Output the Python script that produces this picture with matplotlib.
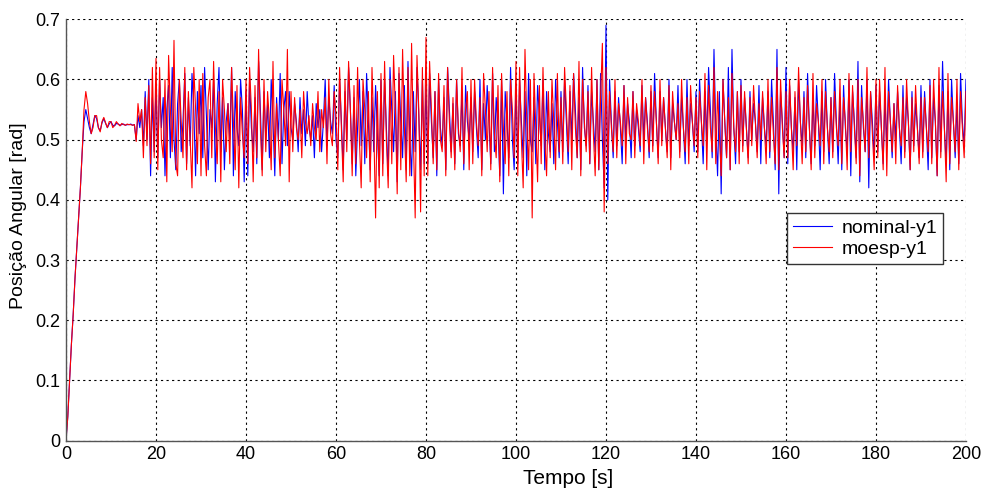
import numpy as np
import matplotlib
matplotlib.use("Agg")
import matplotlib.pyplot as plt

plt.rcParams['font.family'] = ['Liberation Sans', 'DejaVu Sans']

# sample step of the read-off values (s)
dt = 0.4
t_end = 200

# ---- start-up (t = 0 .. 15.2 s) ----
nominal_start = [0, .04, .10, .16, .21, .27, .32, .37, .42, .48, .53, .55, .535, .52, .51, .525,
                 .54, .535, .52, .515, .528, .535, .527, .52, .526, .53, .524, .523, .527, .526,
                 .524, .525, .526, .524, .525, .525, .526, .524, .525]
moesp_start = [0, .04, .10, .16, .21, .27, .32, .37, .42, .48, .55, .58, .56, .53, .51, .52,
               .54, .54, .52, .513, .53, .537, .528, .52, .53, .53, .52, .524, .53, .526,
               .523, .527, .525, .524, .526, .525, .525, .524, .525]

# ---- excitation phase (t = 15.6 .. 200 s) ----
nominal_15 = [.50, .54, .52, .55, .49, .58, .50, .60, .44, .57, .48, .59]
moesp_15 = [.497, .56, .53, .55, .47, .57, .49, .59, .46, .62, .47, .635]

nominal_20 = [.47, .60, .52, .57, .44, .55, .59, .47, .62, .50, .45, .56, .60, .48, .53, .61, .46, .57, .49, .61, .55, .44, .58, .51, .59]
moesp_20 = [.45, .62, .50, .47, .60, .43, .64, .55, .48, .665, .46, .44, .60, .53, .47, .62, .45, .58, .50, .42, .62, .55, .46, .60, .44]
nominal_30 = [.47, .62, .54, .45, .55, .52, .60, .43, .56, .62, .48, .57, .45, .53, .56, .50, .62, .44, .58, .52, .49, .60, .55, .43, .58]
moesp_30 = [.61, .49, .44, .57, .60, .47, .63, .52, .46, .58, .43, .60, .55, .48, .56, .46, .62, .53, .45, .59, .42, .57, .51, .47, .60]
nominal_40 = [.44, .60, .52, .48, .57, .46, .63, .55, .45, .58, .50, .56, .47, .60, .53, .44, .57, .50, .61, .46, .55, .58, .49, .58, .52]
moesp_40 = [.46, .62, .55, .43, .59, .47, .65, .52, .44, .60, .48, .58, .53, .45, .63, .47, .56, .50, .44, .60, .55, .49, .65, .43, .58]
nominal_50 = [.50, .56, .53, .48, .57, .51, .55, .49, .58, .52, .50, .54, .47, .56, .52, .55, .48, .53, .60, .49, .57, .53, .51, .59, .50]
moesp_50 = [.48, .57, .52, .50, .55, .47, .58, .53, .51, .54, .49, .56, .52, .50, .58, .48, .55, .52, .57, .46, .60, .51, .49, .58, .54]
nominal_60 = [.47, .60, .53, .45, .58, .50, .62, .55, .46, .57, .44, .52, .60, .49, .58, .46, .61, .53, .45, .57, .48, .59, .51, .44, .60]
moesp_60 = [.45, .62, .52, .43, .60, .48, .63, .55, .44, .59, .46, .62, .50, .42, .60, .55, .47, .58, .43, .62, .52, .37, .58, .42, .61]
nominal_70 = [.46, .60, .52, .44, .62, .55, .48, .58, .43, .61, .53, .47, .59, .45, .63, .50, .44, .58, .48, .62, .54, .45, .60, .46, .59]
moesp_70 = [.44, .63, .50, .42, .60, .46, .64, .55, .41, .62, .45, .65, .52, .43, .62, .44, .66, .50, .37, .64, .55, .38, .62, .44, .67]
nominal_80 = [.46, .61, .53, .47, .58, .44, .60, .52, .49, .57, .45, .62, .55, .48, .56, .46, .60, .51, .49, .58, .45, .59, .53, .50, .57]
moesp_80 = [.44, .63, .55, .46, .58, .45, .61, .50, .48, .59, .44, .62, .53, .47, .57, .45, .60, .52, .48, .62, .46, .55, .58, .45, .60]
nominal_90 = [.48, .58, .52, .47, .60, .45, .56, .50, .59, .53, .46, .61, .48, .57, .52, .44, .60, .41, .58, .53, .47, .62, .50, .45, .59]
moesp_90 = [.46, .60, .53, .49, .57, .44, .61, .55, .48, .58, .45, .62, .51, .47, .59, .43, .61, .52, .46, .58, .44, .60, .55, .47, .63]
nominal_100 = [.46, .60, .53, .47, .58, .44, .61, .50, .48, .57, .46, .59, .54, .49, .60, .45, .58, .51, .48, .56, .46, .60, .53, .47, .58]
moesp_100 = [.44, .62, .50, .42, .65, .53, .45, .60, .37, .61, .52, .43, .59, .46, .62, .50, .44, .58, .47, .60, .53, .45, .61, .48, .57]
nominal_110 = [.48, .60, .53, .46, .58, .50, .61, .55, .47, .57, .45, .62, .52, .49, .59, .46, .58, .53, .48, .60, .45, .61, .50, .42, .69]
moesp_110 = [.46, .62, .55, .48, .59, .45, .61, .52, .47, .63, .44, .60, .53, .48, .58, .46, .62, .51, .44, .60, .45, .57, .66, .38, .62]
nominal_120 = [.40, .60, .53, .47, .58, .49, .57, .52, .46, .59, .50, .56, .53, .47, .58, .49, .55, .52, .48, .59, .50, .57, .53, .47, .58]
moesp_120 = [.46, .58, .52, .48, .60, .47, .56, .53, .49, .59, .46, .57, .51, .50, .58, .47, .56, .53, .49, .60, .46, .57, .52, .48, .59]
nominal_130 = [.49, .61, .53, .47, .58, .50, .57, .52, .48, .60, .47, .56, .53, .50, .59, .48, .57, .52, .46, .60, .49, .56, .53, .48, .58]
moesp_130 = [.48, .58, .53, .46, .60, .49, .57, .52, .47, .59, .45, .58, .53, .50, .56, .47, .60, .52, .48, .57, .46, .59, .53, .49, .57]
nominal_140 = [.48, .60, .53, .46, .58, .50, .62, .55, .47, .65, .52, .44, .58, .41, .60, .53, .47, .62, .45, .65, .52, .46, .58, .48, .60]
moesp_140 = [.47, .58, .53, .49, .61, .45, .59, .52, .48, .62, .46, .58, .51, .44, .60, .53, .47, .57, .45, .61, .52, .48, .58, .46, .59]
nominal_150 = [.49, .57, .52, .47, .58, .50, .56, .53, .48, .59, .46, .57, .52, .49, .58, .47, .60, .53, .45, .65, .41, .58, .53, .47, .62]
moesp_150 = [.48, .58, .52, .46, .57, .49, .59, .53, .47, .56, .50, .58, .52, .46, .60, .48, .57, .51, .46, .62, .45, .60, .52, .47, .58]
nominal_160 = [.46, .59, .52, .48, .57, .45, .60, .53, .49, .58, .47, .61, .52, .46, .57, .49, .59, .53, .45, .58, .48, .60, .52, .46, .57]
moesp_160 = [.47, .60, .52, .45, .58, .49, .62, .53, .46, .57, .48, .59, .52, .45, .61, .47, .56, .53, .49, .60, .46, .58, .52, .48, .57]
nominal_170 = [.48, .61, .53, .46, .57, .45, .59, .52, .48, .60, .44, .58, .53, .47, .63, .43, .59, .52, .48, .60, .42, .58, .53, .47, .59]
moesp_170 = [.47, .58, .52, .49, .60, .46, .57, .53, .45, .61, .48, .59, .52, .46, .60, .44, .57, .53, .48, .62, .47, .58, .51, .45, .60]
nominal_180 = [.48, .58, .52, .46, .57, .49, .60, .53, .47, .56, .50, .58, .52, .46, .59, .48, .57, .53, .45, .58, .49, .56, .52, .47, .59]
moesp_180 = [.47, .60, .52, .45, .62, .44, .58, .53, .48, .56, .46, .59, .52, .49, .57, .47, .60, .53, .45, .57, .48, .59, .52, .46, .57]
nominal_190 = [.48, .58, .52, .45, .60, .47, .57, .53, .44, .59, .48, .63, .52, .46, .58, .45, .60, .53, .47, .56, .46, .61, .53, .49, .60]
moesp_190 = [.47, .57, .52, .48, .59, .46, .60, .53, .44, .62, .47, .58, .52, .43, .61, .46, .57, .53, .48, .60, .45, .58, .52, .47, .58]

nominal_y1 = np.concatenate([nominal_start, nominal_15, nominal_20, nominal_30, nominal_40, nominal_50,
                             nominal_60, nominal_70, nominal_80, nominal_90, nominal_100, nominal_110,
                             nominal_120, nominal_130, nominal_140, nominal_150, nominal_160,
                             nominal_170, nominal_180, nominal_190])
moesp_y1 = np.concatenate([moesp_start, moesp_15, moesp_20, moesp_30, moesp_40, moesp_50,
                           moesp_60, moesp_70, moesp_80, moesp_90, moesp_100, moesp_110,
                           moesp_120, moesp_130, moesp_140, moesp_150, moesp_160,
                           moesp_170, moesp_180, moesp_190])
t_nom = np.arange(len(nominal_y1)) * dt
t_moe = np.arange(len(moesp_y1)) * dt

x_ticks = [0, 20, 40, 60, 80, 100, 120, 140, 160, 180, 200]
y_ticks = [0, 0.1, 0.2, 0.3, 0.4, 0.5, 0.6, 0.7]
y_tick_labels = ['0', '0.1', '0.2', '0.3', '0.4', '0.5', '0.6', '0.7']

fig = plt.figure(figsize=(9.88, 4.91), dpi=100)
ax = fig.add_axes([0.0668, 0.1025, 0.9109, 0.8582])

ax.plot(t_nom, nominal_y1, color='#0000ff', lw=0.8, label='nominal-y1')
ax.plot(t_moe, moesp_y1, color='#ff0000', lw=0.8, label='moesp-y1')

ax.set_xlim(0, t_end)
ax.set_ylim(0, 0.7)
ax.set_xticks(x_ticks)
ax.set_yticks(y_ticks)
ax.set_yticklabels(y_tick_labels)
ax.tick_params(direction='in', length=0, labelsize=13, colors='black', pad=4)
ax.grid(True, color='black', linestyle=(0, (2, 3)), linewidth=0.8)

for s in ['top', 'right']:
    ax.spines[s].set_visible(False)
for s in ['left', 'bottom']:
    ax.spines[s].set_color('#555555')
    ax.spines[s].set_linewidth(1.0)

ax.set_xlabel('Tempo [s]', fontsize=15)
ax.xaxis.set_label_coords(0.558, -0.068)
ax.set_ylabel('Posição Angular [rad]', fontsize=14)
ax.yaxis.set_label_coords(-0.043, 0.533)

leg = ax.legend(loc='upper right', bbox_to_anchor=(0.9744, 0.540), fontsize=14,
                fancybox=False, framealpha=1, edgecolor='#333333', borderaxespad=0,
                handlelength=2.0, borderpad=0.3, labelspacing=0.2, handletextpad=0.5)
leg.get_frame().set_linewidth(1.0)
for line in leg.get_lines():
    line.set_linewidth(0.8)

fig.savefig('out.png', dpi=100)
